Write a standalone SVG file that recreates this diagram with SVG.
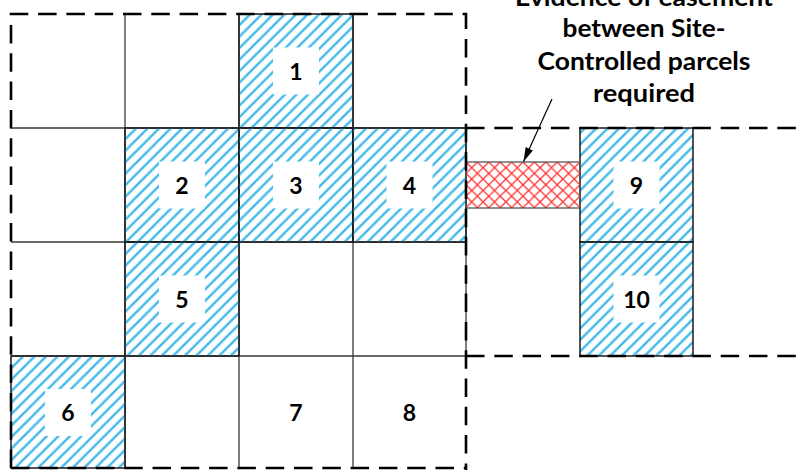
<svg xmlns="http://www.w3.org/2000/svg" width="797" height="470" viewBox="0 0 797 470">
<defs>
<pattern id="hatch" patternUnits="userSpaceOnUse" width="11.5" height="11.5">
<path d="M-3,3 L3,-3 M0,11.5 L11.5,0 M8.5,14.5 L14.5,8.5" stroke="#c6e9f8" stroke-width="3.4"/>
<path d="M-3,3 L3,-3 M0,11.5 L11.5,0 M8.5,14.5 L14.5,8.5" stroke="#2fb1e6" stroke-width="1.7"/>
</pattern>
<pattern id="cross" patternUnits="userSpaceOnUse" x="466" y="162" width="11.4" height="11.4">
<path d="M0,0 L11.4,11.4 M11.4,0 L0,11.4" stroke="#ff3030" stroke-width="1.3"/>
</pattern>
<marker id="arr" viewBox="0 0 14 8" refX="14" refY="4" markerWidth="14" markerHeight="8" markerUnits="userSpaceOnUse" orient="auto">
<path d="M0,0 L14,4 L0,8 z" fill="#000"/>
</marker>
<style>
.grid{stroke:#3a3a3a;stroke-width:1.3;fill:none}
.cell{fill:url(#hatch);stroke:#1a1a1a;stroke-width:1.5}
.lbl{fill:#fff}
.num{font-family:Lato,"Liberation Sans",sans-serif;font-weight:bold;font-size:23px;fill:#000;text-anchor:middle}
.dash{stroke:#000;stroke-width:2.6;stroke-dasharray:18.5 9.8;fill:none}
.note{font-family:Lato,"Liberation Sans",sans-serif;font-weight:bold;font-size:24px;fill:#000;text-anchor:middle}
</style>
</defs>
<rect width="797" height="470" fill="#fff"/>
<g id="grid">
<path class="grid" d="M125,14 V468 M239,14 V468 M353,14 V468 M11,128 H466 M11,242 H466 M11,356 H466 M466,128 V356"/>
</g>
<g id="cell-1"><rect class="cell" x="239" y="14" width="114" height="114"/><rect class="lbl" x="273" y="47.5" width="46" height="47"/><text class="num" x="296" y="80">1</text></g>
<g id="cell-2"><rect class="cell" x="125" y="128" width="114" height="114"/><rect class="lbl" x="159" y="161.5" width="46" height="47"/><text class="num" x="182" y="194">2</text></g>
<g id="cell-3"><rect class="cell" x="239" y="128" width="114" height="114"/><rect class="lbl" x="273" y="161.5" width="46" height="47"/><text class="num" x="296" y="194">3</text></g>
<g id="cell-4"><rect class="cell" x="353" y="128" width="113" height="114"/><rect class="lbl" x="386.5" y="161.5" width="46" height="47"/><text class="num" x="409.5" y="194">4</text></g>
<g id="cell-5"><rect class="cell" x="125" y="242" width="114" height="114"/><rect class="lbl" x="159" y="275.5" width="46" height="47"/><text class="num" x="182" y="308">5</text></g>
<g id="cell-6"><rect class="cell" x="11" y="356" width="114" height="112"/><rect class="lbl" x="45" y="389" width="46" height="47"/><text class="num" x="68" y="421">6</text></g>
<g id="cell-7"><text class="num" x="296" y="421">7</text></g>
<g id="cell-8"><text class="num" x="409.5" y="421">8</text></g>
<g id="cell-9"><rect class="cell" x="580" y="128" width="113" height="114"/><rect class="lbl" x="613.5" y="161.5" width="46" height="47"/><text class="num" x="636.5" y="194">9</text></g>
<g id="cell-10"><rect class="cell" x="580" y="242" width="113" height="114"/><rect class="lbl" x="613.5" y="275.5" width="46" height="47"/><text class="num" x="636.5" y="308">10</text></g>
<g id="easement"><rect x="466" y="162" width="114" height="46" fill="url(#cross)" stroke="#555" stroke-width="1.3"/></g>
<g id="boundaries">
<path class="dash" d="M11,468 V14 H466 V470"/>
<path class="dash" d="M11,468 H466"/>
<path class="dash" d="M466,128 H797"/>
<path class="dash" d="M466,356 H797"/>
</g>
<g id="note">
<text class="note" x="644" y="6" textLength="258" lengthAdjust="spacingAndGlyphs">Evidence of easement</text>
<text class="note" x="644" y="37" textLength="163" lengthAdjust="spacingAndGlyphs">between Site-</text>
<text class="note" x="644" y="70" textLength="213" lengthAdjust="spacingAndGlyphs">Controlled parcels</text>
<text class="note" x="644" y="101.5" textLength="102" lengthAdjust="spacingAndGlyphs">required</text>
</g>
<g id="connectors">
<line x1="552" y1="99" x2="523.5" y2="161.5" stroke="#000" stroke-width="1.2" marker-end="url(#arr)"/>
</g>
</svg>
